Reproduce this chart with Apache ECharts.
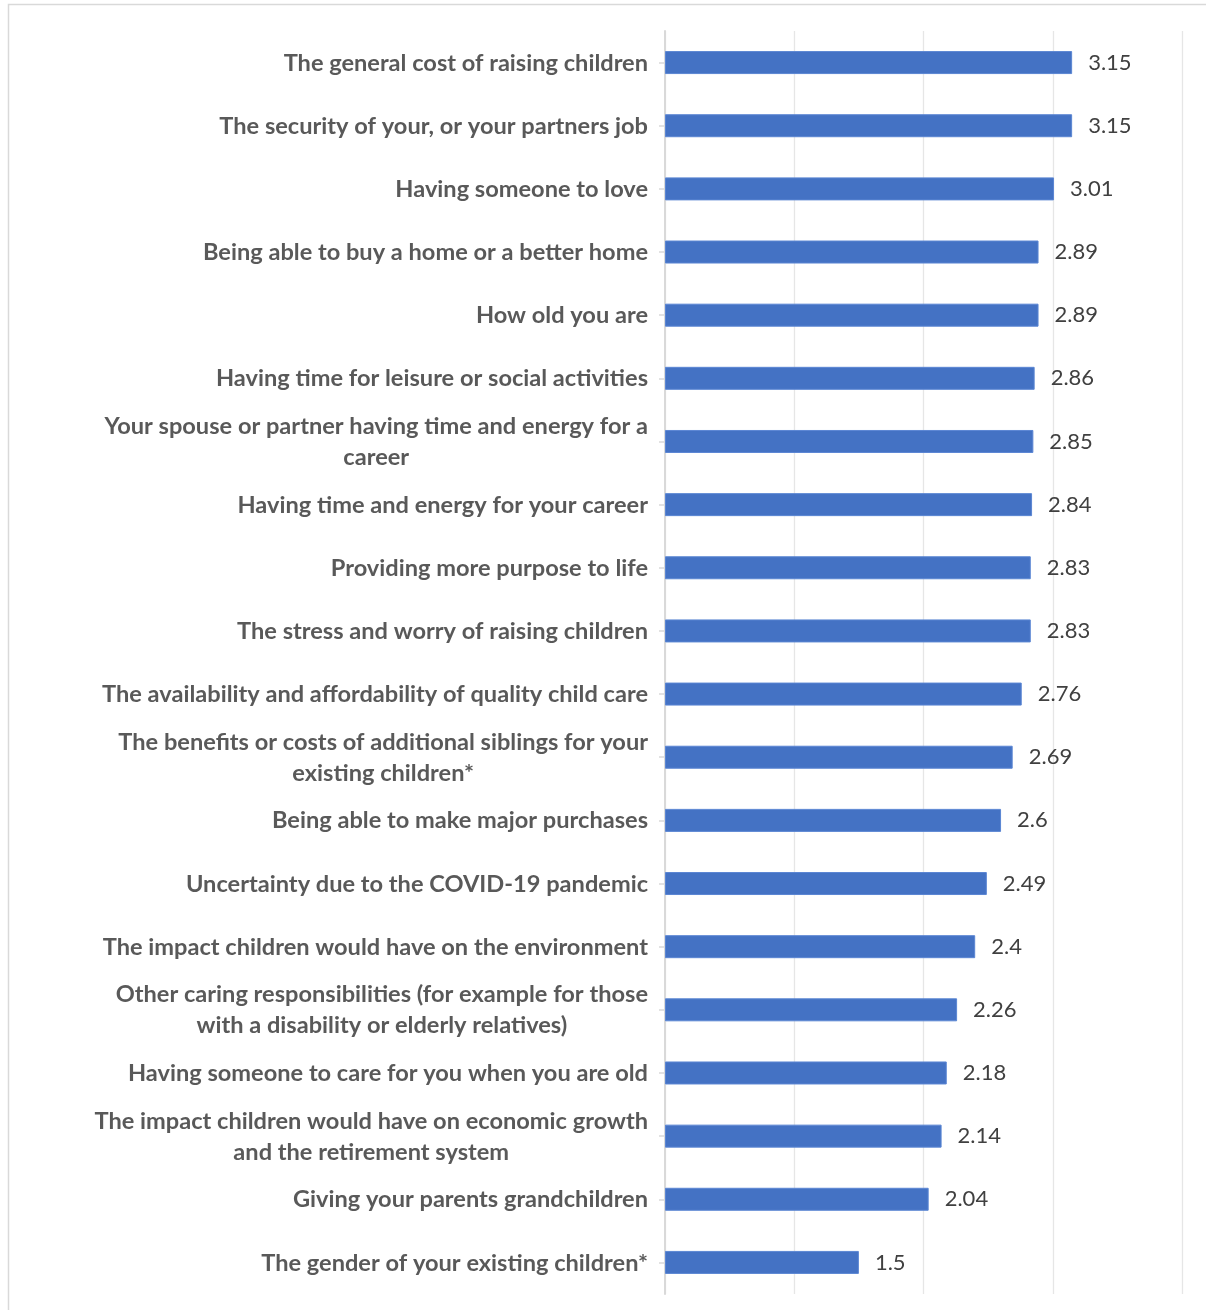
<!DOCTYPE html>
<html>
<head>
<meta charset="utf-8">
<script src="https://cdn.jsdelivr.net/npm/echarts@6/dist/echarts.min.js"></script>
<style>
html,body{margin:0;padding:0;background:#fff;}
#chart{width:1206px;height:1310px;}
</style>
</head>
<body>
<div id="chart"></div>
<script>
const categories = [
  "The general cost of raising children",
  "The security of your, or your partners job",
  "Having someone to love",
  "Being able to buy a home or a better home",
  "How old you are",
  "Having time for leisure or social activities",
  "Your spouse or partner having time and energy for a\ncareer",
  "Having time and energy for your career",
  "Providing more purpose to life",
  "The stress and worry of raising children",
  "The availability and affordability of quality child care",
  "The benefits or costs of additional siblings for your\nexisting children*",
  "Being able to make major purchases",
  "Uncertainty due to the COVID-19 pandemic",
  "The impact children would have on the environment",
  "Other caring responsibilities (for example for those\nwith a disability or elderly relatives)",
  "Having someone to care for you when you are old",
  "The impact children would have on economic growth\nand the retirement system",
  "Giving your parents grandchildren",
  "The gender of your existing children*"
];
const values = [3.15, 3.15, 3.01, 2.89, 2.89, 2.86, 2.85, 2.84, 2.83, 2.83, 2.76, 2.69, 2.6, 2.49, 2.4, 2.26, 2.18, 2.14, 2.04, 1.5];
const axisMin = 0;
const axisMax = 4;
const axisStep = 1;

const chart = echarts.init(document.getElementById('chart'), null, {renderer: 'canvas'});
const labelFont = 'Lato';
chart.setOption({
  animation: false,
  backgroundColor: '#ffffff',
  graphic: [{
    type: 'rect',
    silent: true,
    shape: {x: 8.5, y: 4.5, width: 1300, height: 1400},
    style: {fill: 'none', stroke: '#d9d9d9', lineWidth: 1.5}
  }],
  grid: {left: 665, right: 24, top: 31, bottom: 16, containLabel: false},
  xAxis: {
    type: 'value',
    min: axisMin,
    max: axisMax,
    interval: axisStep,
    axisLine: {show: false},
    axisTick: {show: false},
    axisLabel: {show: false},
    splitLine: {show: true, lineStyle: {color: '#e6e6e6', width: 1.3}}
  },
  yAxis: {
    type: 'category',
    data: categories,
    inverse: true,
    axisLine: {show: true, lineStyle: {color: '#d9d9d9', width: 2}},
    axisTick: {show: true, alignWithLabel: true, length: 6, lineStyle: {color: '#d9d9d9', width: 1.5}},
    axisLabel: {
      margin: 17,
      padding: [1, 0, 0, 0],
      formatter: function (v) {
        return v.split('\n').map(function (l) { return '{c|' + l + '}'; }).join('\n');
      },
      rich: {
        c: {
          align: 'center',
          fontFamily: labelFont,
          fontWeight: 'bold',
          fontSize: 23.6,
          color: '#595959',
          lineHeight: 31
        }
      }
    }
  },
  series: [{
    type: 'bar',
    data: values,
    barWidth: 23,
    itemStyle: {color: '#4472c4', borderColor: '#5b86d3', borderWidth: 1},
    label: {
      show: true,
      position: 'right',
      distance: 16,
      padding: [4, 0, 0, 0],
      fontFamily: labelFont,
      fontSize: 22,
      color: '#404040'
    }
  }]
});
</script>
</body>
</html>
